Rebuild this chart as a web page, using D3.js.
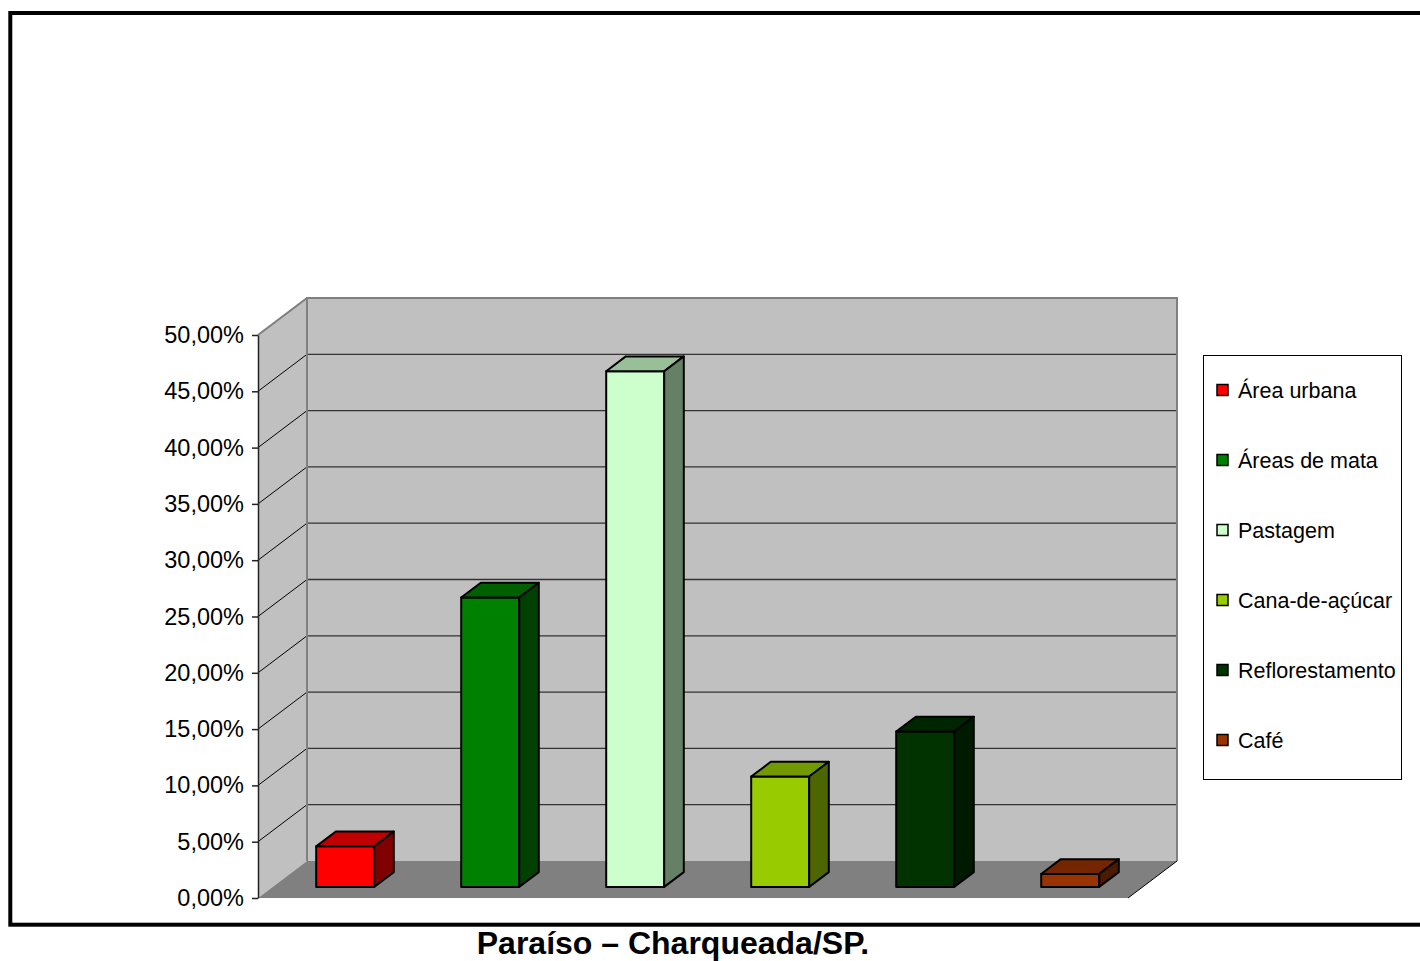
<!DOCTYPE html>
<meta charset="utf-8">
<style>
body { margin: 0; background: #fff; }
svg { display: block; }
.axis text { font: 23.5px "Liberation Sans", Arial, sans-serif; fill: #000; }
.legend text { font: 21.5px "Liberation Sans", Arial, sans-serif; fill: #000; }
.title { font: bold 32px "Liberation Sans", Arial, sans-serif; fill: #000; }
</style>
<svg width="1420" height="961"></svg>
<script src="https://d3js.org/d3.v7.min.js"></script>
<script>

// data
var categories = ["Área urbana", "Áreas de mata", "Pastagem", "Cana-de-açúcar", "Reflorestamento", "Café"];
var values = [0.036, 0.257, 0.458, 0.098, 0.138, 0.0115];
var tickValues = [0, 0.05, 0.10, 0.15, 0.20, 0.25, 0.30, 0.35, 0.40, 0.45, 0.50];
var frontColors = ["#ff0000", "#008000", "#ccffcc", "#99cc00", "#003300", "#993300"];
var topColors   = ["#c00000", "#006000", "#99bf99", "#739900", "#002600", "#732600"];
var sideColors  = ["#800000", "#004000", "#668066", "#4d6600", "#001a00", "#4d1a00"];

var svg = d3.select("svg");

// frame round the chart
svg.append("rect")
    .attr("x", 10.3).attr("y", 13)
    .attr("width", 1430).attr("height", 911.7)
    .attr("fill", "none")
    .attr("stroke", "#000")
    .attr("stroke-width", 4);

// 3d geometry: front plane + depth offset
var x0 = 258, x1 = 1128,
    depthX = 49, depthY = -37;

var y = d3.scaleLinear().domain([0, 0.5]).range([898, 335]);
var x = d3.scaleBand().domain(categories).range([x0, x1]).paddingInner(0.6).paddingOuter(0.3);

var g = svg.append("g");

// back wall
g.append("rect")
    .attr("x", x0 + depthX).attr("y", y(0.5) + depthY)
    .attr("width", x1 - x0).attr("height", y(0) - y(0.5))
    .attr("fill", "#c0c0c0");

// side wall
g.append("path")
    .attr("d", "M" + x0 + "," + y(0) + "L" + x0 + "," + y(0.5) +
               "L" + (x0 + depthX) + "," + (y(0.5) + depthY) +
               "L" + (x0 + depthX) + "," + (y(0) + depthY) + "Z")
    .attr("fill", "#c0c0c0");

// floor
g.append("path")
    .attr("d", "M" + x0 + "," + y(0) + "L" + (x0 + depthX) + "," + (y(0) + depthY) +
               "L" + (x1 + depthX) + "," + (y(0) + depthY) + "L" + x1 + "," + y(0) + "Z")
    .attr("fill", "#808080");

// gridlines on back wall and side wall
g.selectAll(".gridBack").data(tickValues.slice(1, -1)).enter().append("line")
    .attr("x1", x0 + depthX).attr("x2", x1 + depthX)
    .attr("y1", function(d) { return y(d) + depthY; })
    .attr("y2", function(d) { return y(d) + depthY; })
    .attr("stroke", "#333").attr("stroke-width", 1.3);

g.selectAll(".gridSide").data(tickValues.slice(1)).enter().append("line")
    .attr("x1", x0).attr("x2", x0 + depthX)
    .attr("y1", function(d) { return y(d); })
    .attr("y2", function(d) { return y(d) + depthY; })
    .attr("stroke", "#000").attr("stroke-width", 1);

// wall edges
g.append("path")
    .attr("d", "M" + (x0 + depthX) + "," + (y(0) + depthY) + "L" + (x0 + depthX) + "," + (y(0.5) + depthY) +
               "L" + (x1 + depthX) + "," + (y(0.5) + depthY) + "L" + (x1 + depthX) + "," + (y(0) + depthY))
    .attr("fill", "none").attr("stroke", "#808080").attr("stroke-width", 2);
g.append("line")
    .attr("x1", x0).attr("y1", y(0.5))
    .attr("x2", x0 + depthX).attr("y2", y(0.5) + depthY)
    .attr("stroke", "#808080").attr("stroke-width", 2);
g.append("line")
    .attr("x1", x1).attr("y1", y(0))
    .attr("x2", x1 + depthX).attr("y2", y(0) + depthY)
    .attr("stroke", "#000").attr("stroke-width", 1);

// bars sit between 30% and 70% of the depth
var fx = depthX * 0.3, fy = depthY * 0.3,
    bx = depthX * 0.4, by = depthY * 0.4;

var bars = g.selectAll(".bar").data(values).enter().append("g").attr("class", "bar");

bars.append("rect")
    .attr("x", function(d, i) { return x(categories[i]) + fx; })
    .attr("y", function(d) { return y(d) + fy; })
    .attr("width", x.bandwidth())
    .attr("height", function(d) { return y(0) - y(d); })
    .attr("fill", function(d, i) { return frontColors[i]; })
    .attr("stroke", "#000").attr("stroke-width", 2).attr("stroke-linejoin", "round");

bars.append("path")
    .attr("d", function(d, i) {
      var l = x(categories[i]) + fx, r = l + x.bandwidth(), t = y(d) + fy;
      return "M" + l + "," + t + "L" + (l + bx) + "," + (t + by) + "L" + (r + bx) + "," + (t + by) + "L" + r + "," + t + "Z";
    })
    .attr("fill", function(d, i) { return topColors[i]; })
    .attr("stroke", "#000").attr("stroke-width", 2).attr("stroke-linejoin", "round");

bars.append("path")
    .attr("d", function(d, i) {
      var r = x(categories[i]) + fx + x.bandwidth(), t = y(d) + fy, b = y(0) + fy;
      return "M" + r + "," + t + "L" + (r + bx) + "," + (t + by) + "L" + (r + bx) + "," + (b + by) + "L" + r + "," + b + "Z";
    })
    .attr("fill", function(d, i) { return sideColors[i]; })
    .attr("stroke", "#000").attr("stroke-width", 2).attr("stroke-linejoin", "round");

// y axis
var fmt = function(d) { return d3.format(".2f")(d * 100).replace(".", ",") + "%"; };
var axis = g.append("g")
    .attr("class", "axis")
    .attr("transform", "translate(" + x0 + ",0)")
    .call(d3.axisLeft(y).tickValues(tickValues).tickFormat(fmt).tickSize(6).tickSizeOuter(0).tickPadding(8));
axis.select(".domain").attr("stroke", "#222").attr("stroke-width", 1.5);
axis.selectAll(".tick line").attr("stroke", "#222").attr("stroke-width", 1.5);

// legend
var legend = svg.append("g").attr("class", "legend");
legend.append("rect")
    .attr("x", 1203.5).attr("y", 355.5)
    .attr("width", 198).attr("height", 424)
    .attr("fill", "#fff").attr("stroke", "#000").attr("stroke-width", 1);

var ly = d3.scalePoint().domain(categories).range([390, 740]);
var item = legend.selectAll(".item").data(categories).enter().append("g")
    .attr("transform", function(d) { return "translate(1217," + ly(d) + ")"; });
item.append("rect")
    .attr("x", 0).attr("y", -5.5).attr("width", 11).attr("height", 11)
    .attr("fill", function(d, i) { return frontColors[i]; })
    .attr("stroke", "#000").attr("stroke-width", 1.5);
item.append("text")
    .attr("x", 21).attr("dy", "0.35em")
    .text(function(d) { return d; });

// title
svg.append("text")
    .attr("class", "title")
    .attr("x", 673).attr("y", 954)
    .attr("text-anchor", "middle")
    .text("Paraíso – Charqueada/SP.");

</script>
